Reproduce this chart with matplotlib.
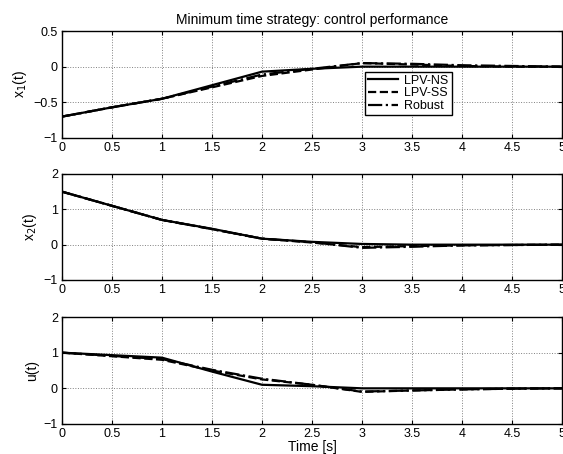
import numpy as np
import matplotlib.pyplot as plt

plt.rcParams['font.family'] = ['Liberation Sans', 'DejaVu Sans']
plt.rcParams['font.size'] = 9

# sample times [s]
t = [0, 0.5, 1, 1.5, 2, 2.5, 3, 3.5, 4, 4.5, 5]

# x1(t)
x1_ns = [-0.70, -0.57, -0.45, -0.26, -0.07, -0.03, 0.0, 0.0, 0.0, 0.0, 0.0]
x1_ss = [-0.70, -0.57, -0.45, -0.29, -0.13, -0.04, 0.05, 0.03, 0.01, 0.0, 0.0]
x1_rb = [-0.70, -0.57, -0.45, -0.28, -0.11, -0.03, 0.05, 0.04, 0.02, 0.01, 0.0]

# x2(t)
x2_ns = [1.50, 1.10, 0.70, 0.45, 0.17, 0.08, 0.02, 0.0, 0.0, 0.0, 0.0]
x2_ss = [1.50, 1.10, 0.70, 0.44, 0.17, 0.06, -0.07, -0.04, -0.02, -0.01, 0.0]
x2_rb = [1.50, 1.10, 0.70, 0.44, 0.17, 0.07, -0.09, -0.06, -0.02, -0.01, 0.0]

# u(t)
u_ns = [1.00, 0.93, 0.86, 0.47, 0.10, 0.06, 0.0, 0.0, 0.0, 0.0, 0.0]
u_ss = [1.00, 0.90, 0.80, 0.50, 0.25, 0.10, -0.10, -0.06, -0.03, -0.01, 0.0]
u_rb = [1.00, 0.91, 0.82, 0.52, 0.27, 0.10, -0.09, -0.06, -0.03, -0.01, 0.0]

labels = ["LPV-NS", "LPV-SS", "Robust"]
styles = ["-", "--", "-."]

fig = plt.figure(figsize=(5.63, 4.54), dpi=100)
W, H = 563, 454
left, right = 62 / W, 562 / W
boxes = [(31, 138), (174, 280), (317, 424)]
data = [(x1_ns, x1_ss, x1_rb), (x2_ns, x2_ss, x2_rb), (u_ns, u_ss, u_rb)]
ylims = [(-1, 0.5), (-1, 2), (-1, 2)]
yticks = [[-1, -0.5, 0, 0.5], [-1, 0, 1, 2], [-1, 0, 1, 2]]
ylabels = ["x$_1$(t)", "x$_2$(t)", "u(t)"]

axes = []
for i, (top, bot) in enumerate(boxes):
    ax = fig.add_axes([left, 1 - bot / H, right - left, (bot - top) / H])
    for y, ls, lab in zip(data[i], styles, labels):
        ax.plot(t, y, color="k", linestyle=ls, linewidth=1.6, label=lab)
    ax.set_xlim(0, 5)
    ax.set_ylim(*ylims[i])
    ax.set_xticks(np.arange(0, 5.01, 0.5))
    ax.set_xticklabels(["0", "0.5", "1", "1.5", "2", "2.5", "3", "3.5", "4", "4.5", "5"])
    ax.set_yticks(yticks[i])
    ax.set_yticklabels([f"{v:g}".replace("-", "\u2212") for v in yticks[i]])
    ax.set_ylabel(ylabels[i], fontsize=10, labelpad=3)
    ax.grid(True, color="gray", linestyle=":", linewidth=0.7)
    ax.tick_params(direction="in", length=3, pad=3, labelsize=9,
                   top=True, right=True)
    for s in ax.spines.values():
        s.set_linewidth(1.0)
    axes.append(ax)

axes[0].set_title("Minimum time strategy: control performance", fontsize=10, pad=5)
axes[0].legend(loc="upper left", bbox_to_anchor=(0.606, 0.62), fontsize=9,
               frameon=True, fancybox=False, edgecolor="k", framealpha=1,
               handlelength=2.4, handletextpad=0.5, borderpad=0.25,
               labelspacing=0.05, borderaxespad=0)
axes[2].set_xlabel("Time [s]", fontsize=10, labelpad=0)

fig.savefig("out.png", dpi=100)
